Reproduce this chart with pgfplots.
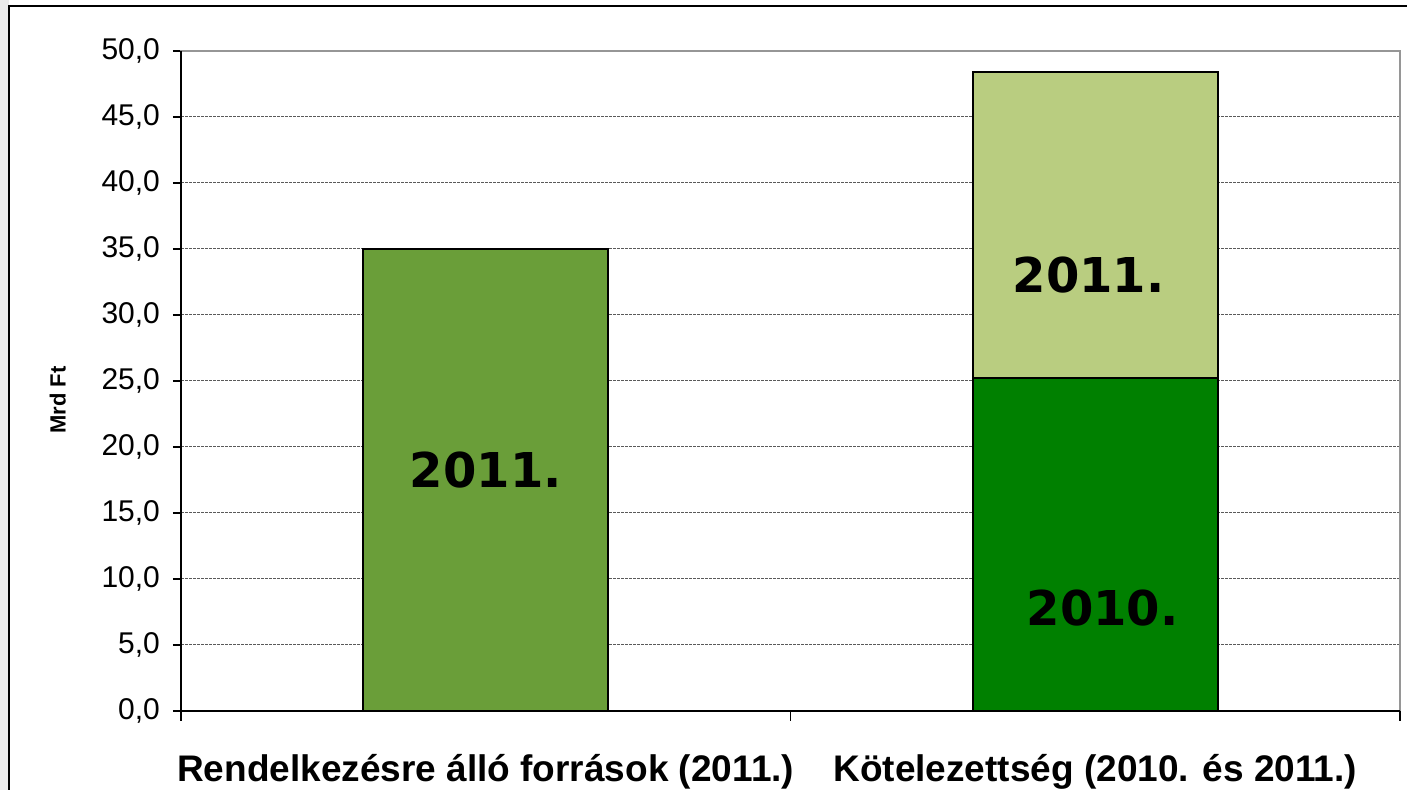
\documentclass[border=0pt]{standalone}
\usepackage{pgfplots}
\pgfplotsset{compat=1.18}
\usepackage{fontspec}
\setmainfont{Liberation Sans}
\newfontfamily\verdana{DejaVu Sans}
\definecolor{olivegreen}{RGB}{106,158,57}
\definecolor{darkgreen}{RGB}{0,128,0}
\definecolor{lightgreen}{RGB}{185,205,128}
\definecolor{framegray}{RGB}{150,150,150}
\definecolor{gridgray}{RGB}{90,90,90}
\begin{document}
\begin{tikzpicture}
\useasboundingbox (0,0) rectangle (703.5pt,395pt);
\fill[white] (0,0) rectangle (703.5pt,395pt);
\fill[black!8] (0,0) rectangle (4.5pt,395pt);
\draw[black, line width=1pt] (4.5pt,0) -- (4.5pt,392pt) -- (703.5pt,392pt);
\begin{axis}[
  at={(90.5pt,39.5pt)}, anchor=south west,
  scale only axis, width=609.5pt, height=330pt,
  ybar stacked, bar width=122.5pt,
  xmin=-0.5, xmax=1.5, ymin=0, ymax=50,
  xtick={0,1},
  xticklabels={Rendelkezésre álló források (2011.), Kötelezettség (2010. és 2011.)},
  xticklabel style={font=\bfseries\fontsize{18.5}{22}\selectfont, yshift=-14pt},
  major tick length=4pt,
  major x tick style={draw=none},
  ytick={0,5,...,50},
  yticklabel style={font=\fontsize{15}{18}\selectfont, xshift=-3pt},
  /pgf/number format/.cd, fixed, fixed zerofill, precision=1, use comma, assume math mode=true,
  /pgfplots/.cd,
  ytick pos=left, tick align=outside,
  major y tick style={black, line width=0.6pt},
  ymajorgrids,
  grid style={gridgray, line width=0.5pt, dash pattern=on 1.5pt off 0.5pt},
  axis line style={framegray, line width=1pt},
  ylabel={Mrd Ft},
  ylabel style={font=\bfseries\fontsize{11}{13}\selectfont, at={(axis description cs:-0.101,0.471)}, anchor=center},
  every axis plot/.append style={draw=black, line width=1.1pt},
  clip=false,
]
\addplot[fill=olivegreen, draw=black] coordinates {(0,35.0) (1,0)};
\addplot[fill=darkgreen, draw=black] coordinates {(0,0) (1,25.2)};
\addplot[fill=lightgreen, draw=black] coordinates {(0,0) (1,23.2)};
\coordinate (O) at (rel axis cs:0,0);
\coordinate (TL) at (rel axis cs:0,1);
\coordinate (BR) at (rel axis cs:1,0);
\coordinate (M) at (axis cs:0.5,0);
\coordinate (L1) at (axis cs:0,18.26);
\coordinate (L2) at (axis cs:0.989,33.0);
\coordinate (L3) at (axis cs:1.012,7.8);
\end{axis}
\draw[black, line width=1pt] (TL) -- (O) -- (BR);
\draw[black, line width=0.6pt] (O) -- ++(0,-5pt);
\draw[black, line width=0.6pt] (M) -- ++(0,-5pt);
\draw[black, line width=0.6pt] (BR) -- ++(0,-5pt);
\node[font=\verdana\bfseries\fontsize{24}{28}\selectfont] at (L1) {2011.};
\node[font=\verdana\bfseries\fontsize{24}{28}\selectfont] at (L2) {2011.};
\node[font=\verdana\bfseries\fontsize{24}{28}\selectfont] at (L3) {2010.};
\end{tikzpicture}
\end{document}
